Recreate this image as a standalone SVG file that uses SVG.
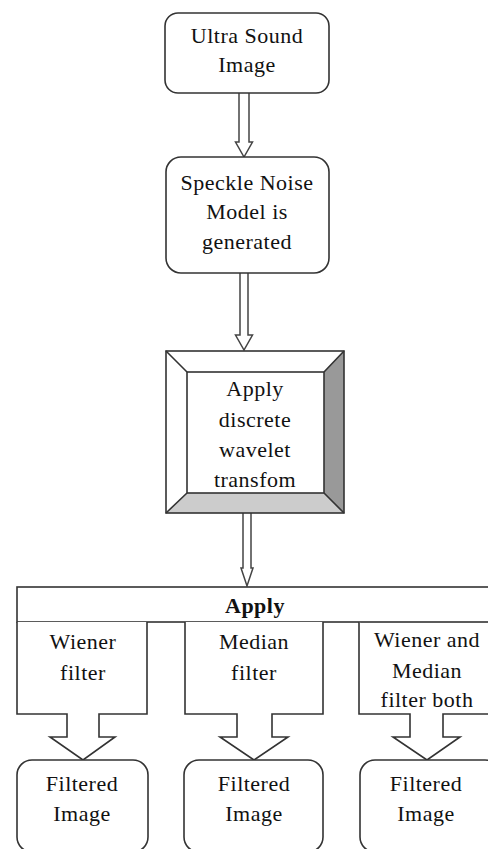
<svg xmlns="http://www.w3.org/2000/svg" width="488" height="849" viewBox="0 0 488 849">
<style>
.box{fill:#fff;stroke:#333;stroke-width:1.6}
.ln{fill:none;stroke:#333;stroke-width:1.6}
.arr{fill:#fff;stroke:#444;stroke-width:1.5;stroke-linejoin:miter}
text{font-family:"Liberation Serif","Times New Roman",serif;font-size:22px;letter-spacing:0.5px;fill:#111;text-anchor:middle}
.b{font-weight:bold}
</style>
<rect width="488" height="849" fill="#fff"/>
<g id="connectors">
<path class="arr" d="M239,93 L239,142 L235.5,142 L244,157 L252.5,142 L249,142 L249,93"/>
<path class="arr" d="M240,273 L240,335 L235.5,335 L244,350 L252.5,335 L248,335 L248,273"/>
<path class="arr" d="M243,513 L243,568 L241,568 L247,586 L253,568 L251,568 L251,513"/>
</g>
<g id="n1">
<rect class="box" x="165" y="13" width="164" height="80" rx="13"/>
<text x="247" y="43">Ultra Sound</text>
<text x="247" y="72">Image</text>
</g>
<g id="n2">
<rect class="box" x="166" y="157" width="163" height="116" rx="15"/>
<text x="247" y="190">Speckle Noise</text>
<text x="247" y="219">Model is</text>
<text x="247" y="249">generated</text>
</g>
<g id="n3">
<polygon points="166,351 344,351 324,372 187,372" fill="#fff"/>
<polygon points="166,351 187,372 187,493 166,513" fill="#fff"/>
<polygon points="344,351 344,513 324,493 324,372" fill="#999"/>
<polygon points="166,513 344,513 324,493 187,493" fill="#ccc"/>
<rect class="ln" x="166" y="351" width="178" height="162"/>
<rect class="box" x="187" y="372" width="137" height="121"/>
<path class="ln" d="M166,351 L187,372 M344,351 L324,372 M166,513 L187,493 M344,513 L324,493"/>
<text x="255" y="396">Apply</text>
<text x="255" y="427">discrete</text>
<text x="255" y="457">wavelet</text>
<text x="255" y="487">transfom</text>
</g>
<g id="n4">
<rect class="box" x="17" y="587" width="490" height="35"/>
<text class="b" x="255" y="613">Apply</text>
</g>
<g id="n5">
<path class="box" d="M17,622 L17,714 L67,714 L67,737 L50,737 L83,760 L115,737 L99,737 L99,714 L147,714 L147,622"/>
<text x="83" y="649">Wiener</text>
<text x="83" y="680">filter</text>
</g>
<g id="n6">
<path class="box" d="M185,622 L185,714 L237,714 L237,737 L220,737 L254,760 L288,737 L272,737 L272,714 L323,714 L323,622"/>
<text x="254" y="649">Median</text>
<text x="254" y="680">filter</text>
</g>
<g id="n7">
<path class="box" d="M359,622 L359,714 L410,714 L410,737 L393,737 L427,760 L460,737 L443,737 L443,714 L497,714"/>
<text x="427" y="647">Wiener and</text>
<text x="427" y="678">Median</text>
<text x="427" y="707">filter both</text>
</g>
<g id="n8">
<rect class="box" x="17" y="760" width="131" height="92" rx="15"/>
<text x="82" y="791">Filtered</text>
<text x="82" y="821">Image</text>
</g>
<g id="n9">
<rect class="box" x="184" y="760" width="139" height="92" rx="15"/>
<text x="254" y="791">Filtered</text>
<text x="254" y="821">Image</text>
</g>
<g id="n10">
<rect class="box" x="360" y="760" width="140" height="92" rx="15"/>
<text x="426" y="791">Filtered</text>
<text x="426" y="821">Image</text>
</g>
</svg>
